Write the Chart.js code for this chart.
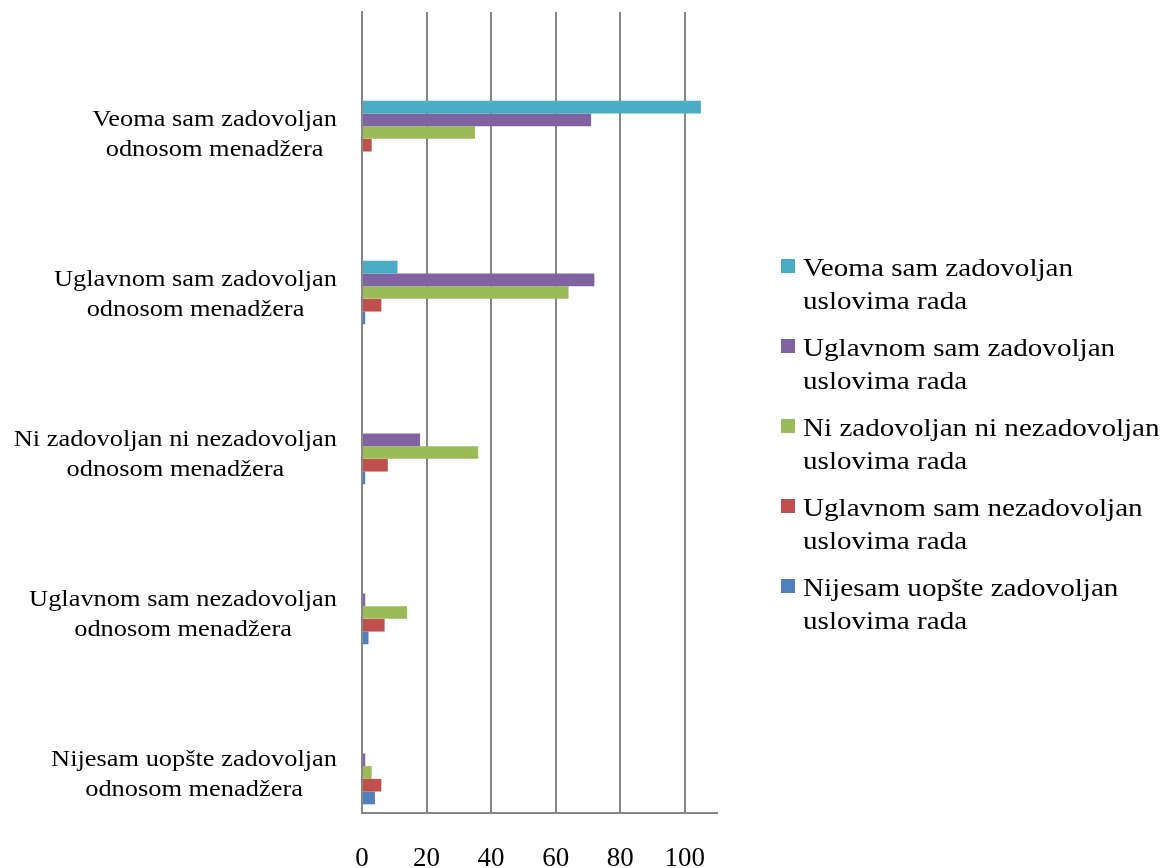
<!DOCTYPE html>
<html>
<head>
<meta charset="utf-8">
<script src="https://cdn.jsdelivr.net/npm/chart.js@4/dist/chart.umd.min.js"></script>
<style>
  body { margin: 0; background: #fff; }
  #wrap { width: 1165px; height: 868px; position: relative; }
</style>
</head>
<body>
<div id="wrap"><canvas id="chart"></canvas></div>
<script>
// Kategorije (osa Y), svaka u dva reda
const categories = [
  ["Veoma sam zadovoljan", "odnosom menadžera"],
  ["Uglavnom sam zadovoljan", "odnosom menadžera"],
  ["Ni zadovoljan ni nezadovoljan", "odnosom menadžera"],
  ["Uglavnom sam nezadovoljan", "odnosom menadžera"],
  ["Nijesam uopšte zadovoljan", "odnosom menadžera"]
];

// Serije (legenda)
const seriesNames = [
  ["Veoma sam zadovoljan", "uslovima rada"],
  ["Uglavnom sam zadovoljan", "uslovima rada"],
  ["Ni zadovoljan ni nezadovoljan", "uslovima rada"],
  ["Uglavnom sam nezadovoljan", "uslovima rada"],
  ["Nijesam uopšte zadovoljan", "uslovima rada"]
];
const seriesColors = ["#4BACC6", "#8064A2", "#9BBB59", "#C0504D", "#4F81BD"];

// Vrijednosti po kategoriji
const veomaZadovoljan = [105, 11, 0, 0, 0];
const uglavnomZadovoljan = [71, 72, 18, 1, 1];
const niNi = [35, 64, 36, 14, 3];
const uglavnomNezadovoljan = [3, 6, 8, 7, 6];
const nijesamZadovoljan = [0, 1, 1, 2, 4];

const xTicks = [0, 20, 40, 60, 80, 100];

const seriesValues = [veomaZadovoljan, uglavnomZadovoljan, niNi, uglavnomNezadovoljan, nijesamZadovoljan];

const serif = "'Liberation Serif', 'Times New Roman', serif";
const gridColor = "#878787";

// Crta tekst malo razvučen vodoravno (kao na originalu)
function stretchedText(ctx, text, x, y, sx) {
  ctx.save();
  ctx.translate(x, y);
  ctx.scale(sx, 1);
  ctx.fillText(text, 0, 0);
  ctx.restore();
}

// Oznake kategorija i legenda
const labelsPlugin = {
  id: "labelsPlugin",
  afterDraw(chart) {
    const ctx = chart.ctx;
    const yScale = chart.scales.y;
    ctx.save();
    ctx.fillStyle = "#000";
    ctx.textBaseline = "alphabetic";

    // Oznake ose Y
    const sxLab = 1.1;
    ctx.font = "24px " + serif;
    categories.forEach((lines, i) => {
      const mid = yScale.getPixelForValue(i);
      const widest = Math.max(...lines.map((l) => ctx.measureText(l).width * sxLab));
      const cx = 337 - widest / 2;
      ctx.textAlign = "center";
      stretchedText(ctx, lines[0], cx, mid - 6.5, sxLab);
      stretchedText(ctx, lines[1], cx, mid + 23.5, sxLab);
    });

    // Legenda
    const sxLeg = 1.12;
    ctx.font = "26px " + serif;
    ctx.textAlign = "left";
    seriesNames.forEach((lines, i) => {
      const base = 276 + i * 80;
      ctx.fillStyle = seriesColors[i];
      ctx.fillRect(781, base - 17, 14, 14);
      ctx.fillStyle = "#000";
      stretchedText(ctx, lines[0], 803, base, sxLeg);
      stretchedText(ctx, lines[1], 803, base + 33, sxLeg);
    });
    ctx.restore();
  }
};

const ctx = document.getElementById("chart").getContext("2d");
const chart = new Chart(ctx, {
  type: "bar",
  data: {
    datasets: seriesValues.map((vals, s) => ({
      label: seriesNames[s].join(" "),
      data: vals.map((v, i) => ({ x: v, y: i })),
      backgroundColor: seriesColors[s],
      borderWidth: 0,
      categoryPercentage: 0.397,
      barPercentage: 1
    }))
  },
  options: {
    indexAxis: "y",
    responsive: true,
    maintainAspectRatio: false,
    animation: false,
    layout: { padding: { top: 12, right: 448, bottom: 0, left: 0 } },
    plugins: {
      legend: { display: false },
      tooltip: { enabled: false }
    },
    scales: {
      x: {
        type: "linear",
        position: "bottom",
        min: 0,
        max: 110,
        afterBuildTicks: (s) => { s.ticks = xTicks.map((v) => ({ value: v })); },
        afterFit: (s) => { s.height = 55; },
        grid: { color: gridColor, lineWidth: 2, drawTicks: false },
        border: { display: true, color: gridColor, width: 2 },
        ticks: {
          padding: 30,
          color: "#000",
          font: { family: serif, size: 27 }
        }
      },
      y: {
        type: "linear",
        reverse: true,
        offset: false,
        bounds: "data",
        min: -0.753,
        max: 4.253,
        afterBuildTicks: (s) => { s.ticks = categories.map((c, i) => ({ value: i })); },
        afterFit: (s) => { s.width = 362; },
        grid: { display: false, offset: false },
        border: { display: true, color: gridColor, width: 2 },
        ticks: { display: false }
      }
    }
  },
  plugins: [labelsPlugin]
});
</script>
</body>
</html>
